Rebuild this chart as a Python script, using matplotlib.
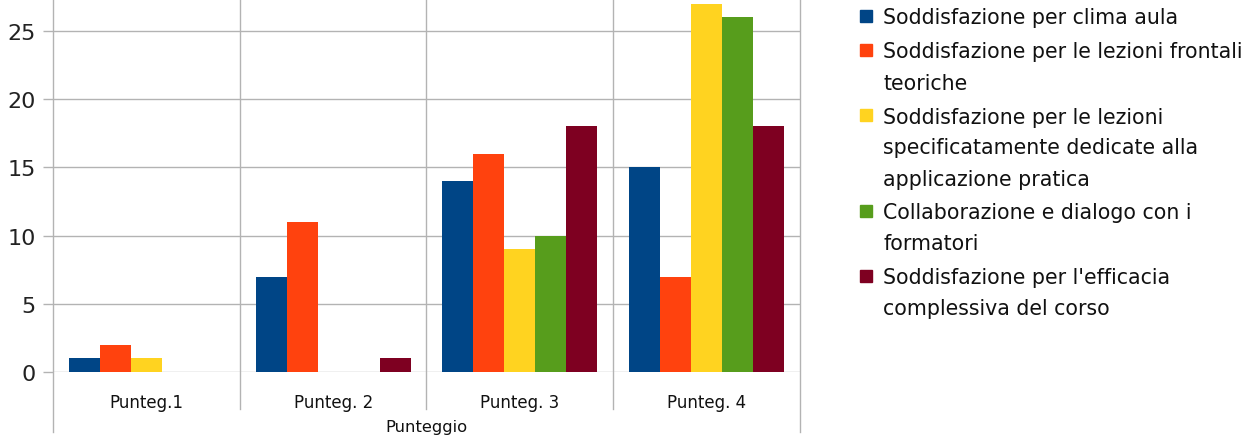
import numpy as np
import matplotlib
matplotlib.use("Agg")
import matplotlib.pyplot as plt
from matplotlib.patches import Rectangle

plt.rcParams['font.family'] = ['DejaVu Sans']

categories = ["Punteg.1", "Punteg. 2", "Punteg. 3", "Punteg. 4"]
series_labels = [
    "Soddisfazione per clima aula",
    "Soddisfazione per le lezioni frontali\nteoriche",
    "Soddisfazione per le lezioni\nspecificatamente dedicate alla\napplicazione pratica",
    "Collaborazione e dialogo con i\nformatori",
    "Soddisfazione per l'efficacia\ncomplessiva del corso",
]
clima = [1, 7, 14, 15]
frontali = [2, 11, 16, 7]
pratica = [1, 0, 9, 27]
formatori = [0, 0, 10, 26]
efficacia = [0, 1, 18, 18]
colors = ["#004586", "#ff420e", "#ffd320", "#579d1c", "#7e0021"]
yticks = [0, 5, 10, 15, 20, 25]

series = [clima, frontali, pratica, formatori, efficacia]
grid_col = "#b3b3b3"

W, H = 1248, 439
fig = plt.figure(figsize=(W / 100, H / 100), dpi=100)
ax_left, ax_right, ax_top, ax_bot = 53, 800, 0, 373
ax = fig.add_axes([ax_left / W, 1 - ax_bot / H, (ax_right - ax_left) / W, (ax_bot - ax_top) / H])
axh = ax_bot - ax_top

x = np.arange(len(categories))
bw = 0.166
n = len(series)
for k, (vals, c) in enumerate(zip(series, colors)):
    ax.bar(x - bw * (n - 1) / 2 + k * bw, vals, width=bw, color=c, zorder=3)

ax.set_xlim(-0.5, len(categories) - 0.5)
ax.set_ylim(0, axh / 13.64)
for s in ax.spines.values():
    s.set_visible(False)

# horizontal grid + outward ticks
ax.set_yticks(yticks)
ax.tick_params(axis='y', length=7.2, width=1, color=grid_col, labelsize=16, pad=5, labelcolor="#222222")
ax.yaxis.grid(True, color=grid_col, linewidth=1, zorder=0)
ax.set_axisbelow(True)

# category separators (extend below axis)
ax.set_xticks([])
xt = ax.get_xaxis_transform()
bounds = np.arange(len(categories) + 1) - 0.5
for i, b in enumerate(bounds):
    low = -60 / axh if i in (0, len(bounds) - 1) else -37 / axh
    ax.plot([b, b], [low, 1], color=grid_col, linewidth=1, transform=xt, clip_on=False, zorder=1)

for i, lab in enumerate(categories):
    ax.text(x[i], -30 / axh, lab, transform=xt, ha='center', va='center', fontsize=12, color="#111111")
ax.text(0.5, -55 / axh, "Punteggio", transform=ax.transAxes, ha='center', va='center', fontsize=11.8, color="#111111")

# legend drawn by hand so squares sit beside the first line
line_h = 31
gap = 3
yc = 17
for lab, c in zip(series_labels, colors):
    fig.patches.append(Rectangle((860 / W, 1 - (yc + 6) / H), 12 / W, 12 / H,
                                 transform=fig.transFigure, color=c, figure=fig))
    for j, line in enumerate(lab.split("\n")):
        fig.text(883 / W, 1 - (yc + j * line_h + 7.5) / H, line, ha='left', va='baseline',
                 fontsize=14.8, color="#111111")
    yc += len(lab.split("\n")) * line_h + gap

fig.savefig("out.png", dpi=100, facecolor="white")
